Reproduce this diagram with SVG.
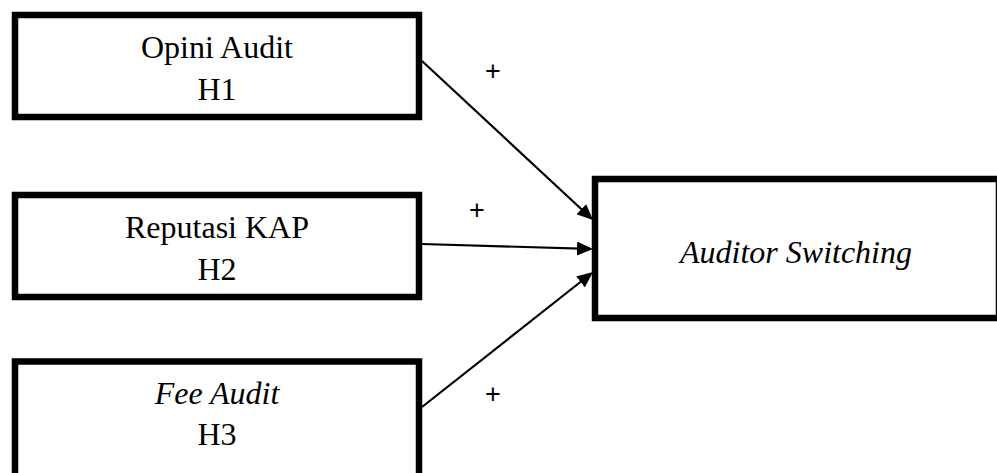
<svg xmlns="http://www.w3.org/2000/svg" width="997" height="473" viewBox="0 0 997 473">
<style>
.box{fill:#fff;stroke:#000;stroke-width:6.5}
.t{font-family:"Liberation Serif","Times New Roman",serif;font-size:32px;fill:#000;text-anchor:middle}
.i{font-style:italic}
.plus{font-family:"Liberation Sans",Arial,sans-serif;font-size:27px;fill:#000;text-anchor:middle}
.conn{stroke:#000;stroke-width:2.2;fill:none}
</style>
<defs>
<marker id="arr" markerUnits="userSpaceOnUse" markerWidth="16" markerHeight="14" refX="12" refY="7" orient="auto">
<path d="M0,0 L16,7 L0,14 z" fill="#000"/>
</marker>
</defs>
<rect width="997" height="473" fill="#fff"/>
<g id="opini-audit">
<rect class="box" x="15" y="15" width="404" height="102"/>
<text class="t" x="217" y="58">Opini Audit</text>
<text class="t" x="217" y="100">H1</text>
</g>
<g id="reputasi-kap">
<rect class="box" x="15" y="195" width="404" height="102"/>
<text class="t" x="217" y="238">Reputasi KAP</text>
<text class="t" x="217" y="280">H2</text>
</g>
<g id="fee-audit">
<rect class="box" x="15" y="361.5" width="404" height="130"/>
<text class="t i" x="217" y="404">Fee Audit</text>
<text class="t" x="217" y="445">H3</text>
</g>
<g id="auditor-switching">
<rect class="box" x="595" y="179" width="404" height="139"/>
<text class="t i" x="796" y="263">Auditor Switching</text>
</g>
<g id="connectors">
<line class="conn" x1="422" y1="61" x2="590.1" y2="217.3" marker-end="url(#arr)"/>
<line class="conn" x1="422" y1="244" x2="589" y2="248.9" marker-end="url(#arr)"/>
<line class="conn" x1="422" y1="407" x2="589.9" y2="274.5" marker-end="url(#arr)"/>
<text class="plus" x="493" y="80">+</text>
<text class="plus" x="477" y="219">+</text>
<text class="plus" x="493" y="402.5">+</text>
</g>
</svg>
